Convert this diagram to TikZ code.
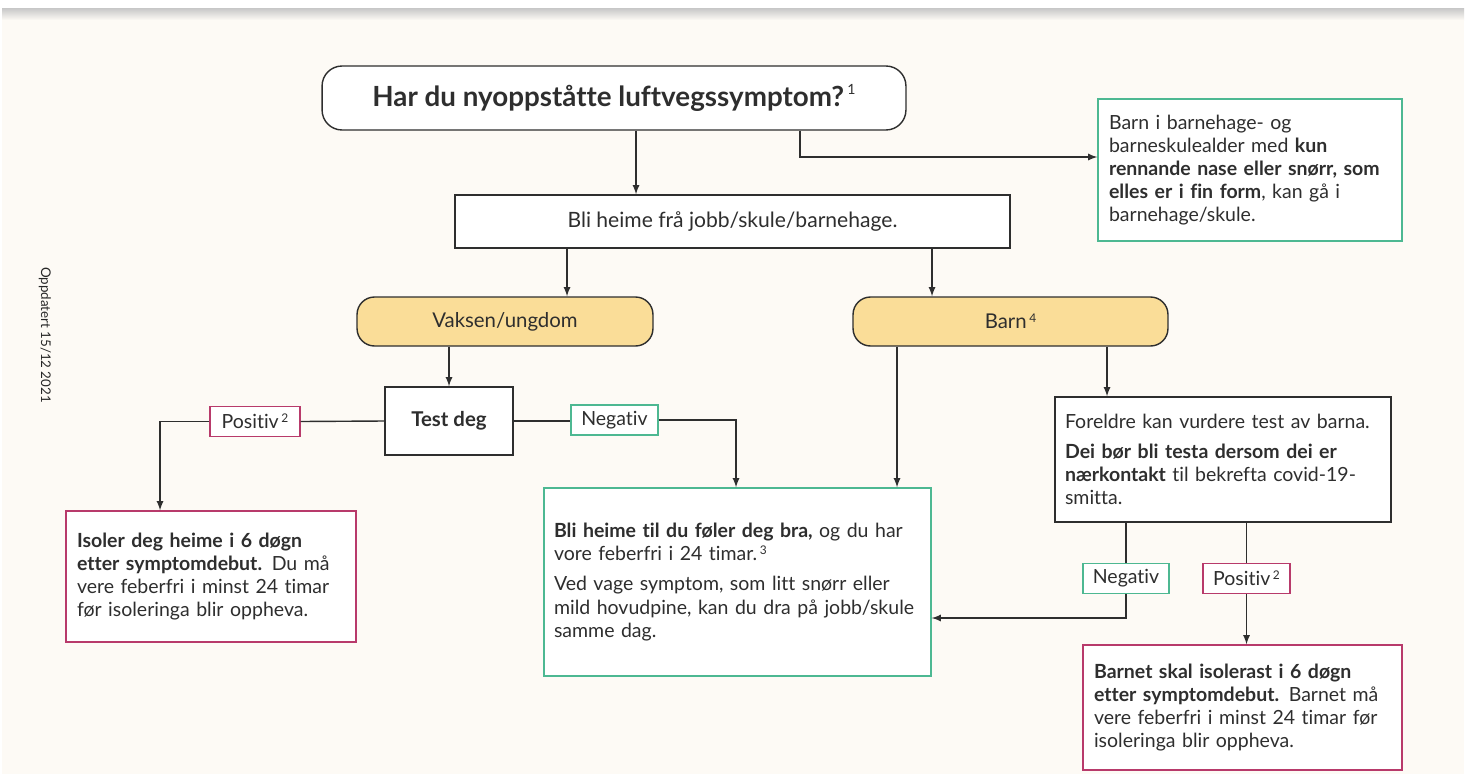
\documentclass[tikz,border=0pt]{standalone}
\usepackage{fontspec}
\setmainfont{Lato}[Ligatures=NoCommon]
\usetikzlibrary{positioning}
\definecolor{paper}{HTML}{FDFAF5}
\definecolor{okgreen}{HTML}{4DB892}
\definecolor{alertred}{HTML}{B83A6B}
\definecolor{pale}{HTML}{FADD98}
\definecolor{ink}{HTML}{2E2E2E}
\newcommand{\fnote}[1]{\hspace{1.5pt}\raisebox{0.6ex}{\fontsize{6.8}{7}\selectfont #1}}

\begin{document}
\begin{tikzpicture}[x=0.02cm,y=-0.02cm,
	font=\fontsize{11.1}{13.2}\selectfont,
	text=ink,
	every node/.style={line width=0.8pt},
	plainbox/.style={draw=ink,fill=white,inner sep=0pt},
	groupbox/.style={draw=ink,fill=pale,rounded corners=0.35cm,
		minimum width=5.92cm,minimum height=0.98cm},
	infobox/.style={fill=white,inner xsep=0.22cm,inner ysep=0pt,align=left},
	tag/.style={fill=white,inner sep=0pt,minimum height=0.6cm},
	arr/.style={draw=ink,line width=0.8pt,-latex},
	link/.style={draw=ink,line width=0.8pt}
	]
	% page
	\useasboundingbox (0,0) rectangle (1466,774);
	\fill[white] (0,0) rectangle (1466,774);
	\fill[paper] (2,8) rectangle (1464,774);
	\shade[top color=black!22,bottom color=paper] (2,8) rectangle (1464,20);
	% side note
	\node[rotate=-90,font=\fontsize{7.6}{9}\selectfont,text=black!85] (stamp) at (45,335) {Oppdatert 15/12 2021};
	% question
	\node[plainbox,rounded corners=0.4cm,
	minimum width=11.68cm,
	minimum height=1.28cm,
	font=\fontsize{15.8}{19}\selectfont\bfseries] (question) at (614,98)
	{Har du nyoppståtte luftvegssymptom?\hspace{2pt}{\normalfont\raisebox{0.9ex}{\fontsize{8}{8}\selectfont 1}}};
	% stay home
	\node[plainbox,
	minimum width=11.1cm,
	minimum height=1.06cm,
	font=\fontsize{12}{14}\selectfont] (home) at (732.5,221.5) {Bli heime frå jobb/skule/barnehage.};
	% runny nose
	\node[infobox,draw=okgreen,
	minimum width=6.08cm,
	minimum height=2.84cm,
	text width=5.64cm] (nose) at (1250,170)
	{Barn i barnehage- og\\
		barneskulealder med \textbf{kun}\\
		\textbf{rennande nase eller snørr, som}\\
		\textbf{elles er i fin form}, kan gå i\\
		barnehage/skule.};
	% groups
	\node[groupbox,font=\fontsize{11.6}{14}\selectfont] (adult) at (505,321.5) {Vaksen/ungdom};
	\node[groupbox,minimum width=6.3cm,font=\fontsize{11.6}{14}\selectfont] (child) at (1010.5,321.5) {Barn\fnote{4}};
	% test
	\node[plainbox,
	minimum width=2.56cm,
	minimum height=1.36cm,
	font=\fontsize{11.6}{13}\selectfont\bfseries] (test) at (449,421) {Test deg};
	% isolate adult
	\node[infobox,draw=alertred,
	minimum width=5.8cm,
	minimum height=2.62cm,
	text width=5.36cm] (isoadult) at (211,576.5)
	{\textbf{Isoler deg heime i 6 døgn}\\
		\textbf{etter symptomdebut.} Du må\\
		vere feberfri i minst 24 timar\\
		før isoleringa blir oppheva.};
	% stay until well
	\node[infobox,draw=okgreen,
	inner xsep=0.2cm,
	minimum width=7.74cm,
	minimum height=3.76cm,
	text width=7.34cm] (well) at (737.5,582)
	{\textbf{Bli heime til du føler deg bra,} og du har\\
		vore feberfri i 24 timar.\fnote{3}\\[4pt]
		Ved vage symptom, som litt snørr eller\\
		mild hovudpine, kan du dra på jobb/skule\\
		samme dag.};
	% parents
	\node[infobox,draw=ink,
	inner xsep=0.2cm,
	minimum width=6.72cm,
	minimum height=2.5cm,
	text width=6.32cm] (parents) at (1223,459.5)
	{Foreldre kan vurdere test av barna.\\[4pt]
		\textbf{Dei bør bli testa dersom dei er}\\
		\textbf{nærkontakt} til bekrefta covid-19-\\
		smitta.};
	% isolate child
	\node[infobox,draw=alertred,
	minimum width=6.38cm,
	minimum height=2.5cm,
	text width=5.94cm] (isochild) at (1242.5,707.5)
	{\textbf{Barnet skal isolerast i 6 døgn}\\
		\textbf{etter symptomdebut.} Barnet må\\
		vere feberfri i minst 24 timar før\\
		isoleringa blir oppheva.};
	% result tags
	\node[tag,draw=alertred,minimum width=1.8cm] (pos1) at (255,421.5) {Positiv\fnote{2}};
	\node[tag,draw=okgreen,minimum width=1.74cm] (neg1) at (614.5,420) {Negativ};
	\node[tag,draw=okgreen,minimum width=1.72cm] (neg2) at (1126,578.5) {Negativ};
	\node[tag,draw=alertred,minimum width=1.74cm] (pos2) at (1246.5,578.5) {Positiv\fnote{2}};

	% connectors
	\draw[arr] (question.south) ++(22,0) coordinate (q1) -- (q1 |- home.north);
	\draw[arr] (question.south) ++(186,0) |- ([yshift=0.26cm]nose.west);
	\draw[arr] (home.south) ++(-165.5,0) coordinate (h1) -- (h1 |- adult.north);
	\draw[arr] (home.south) ++(199.5,0) coordinate (h2) -- (h2 |- child.north);
	\draw[arr] (test.north |- adult.south) -- (test.north);
	\draw[link] (test.west) -- (pos1.east);
	\draw[arr] (pos1.west) -| ([xshift=-1.02cm]isoadult.north);
	\draw[link] (test.east) -- (test.east -| neg1.west);
	\draw[arr] (neg1.east) -| ([xshift=-0.03cm]well.north);
	\draw[arr] (child.south) ++(-113.5,0) coordinate (c1) -- (c1 |- well.north);
	\draw[arr] (child.south) ++(96.5,0) coordinate (c2) -- (c2 |- parents.north);
	\draw[link] (parents.south -| neg2.north) -- (neg2.north);
	\draw[arr] (neg2.south) |- ([yshift=-0.72cm]well.east);
	\draw[link] (parents.south -| pos2.north) -- (pos2.north);
	\draw[arr] (pos2.south) -- (pos2.south |- isochild.north);
\end{tikzpicture}
\end{document}
